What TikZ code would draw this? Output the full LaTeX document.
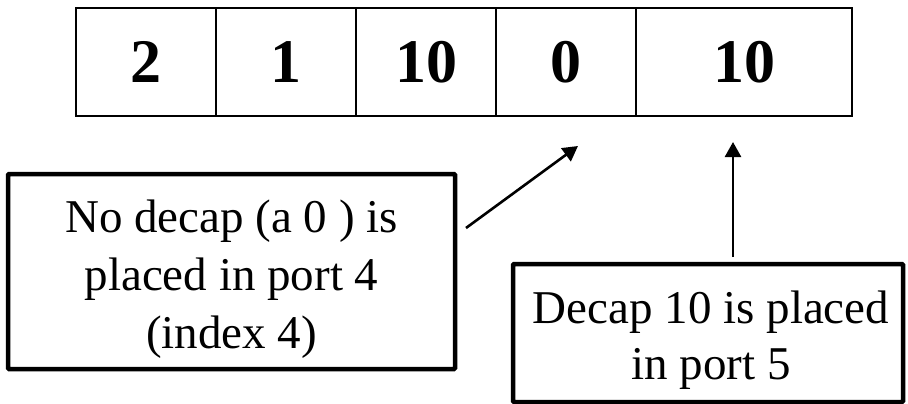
\documentclass[tikz,border=0pt]{standalone}
\usepackage{fontspec}
\setmainfont{Liberation Serif}
\usetikzlibrary{arrows.meta}

\tikzset{
  cell/.style={draw, line width=2.6pt, minimum height=108pt, inner sep=0pt,
    font=\fontsize{62}{70}\selectfont\bfseries},
  notebox/.style={draw, line width=4.5pt, rounded corners=1pt, inner sep=0pt},
  notetext/.style={inner sep=0pt, align=center, font=\fontsize{47}{58}\selectfont},
  pointer/.style={line width=2.6pt, -{Triangle[length=15pt,width=16pt]}}
}

\begin{document}
\begin{tikzpicture}[x=1pt,y=-1pt]
  \useasboundingbox (0,0) rectangle (908,404);

  % the five port slots
  \node[cell, minimum width=140pt] (c1) at (146,62) {2};
  \node[cell, minimum width=140pt] (c2) at (286,62) {1};
  \node[cell, minimum width=140pt] (c3) at (426,62) {10};
  \node[cell, minimum width=140pt] (c4) at (566,62) {0};
  \node[cell, minimum width=216pt] (c5) at (744,62) {10};

  % explanatory notes
  \node[notebox, minimum width=447pt, minimum height=195pt] (n4) at (231.5,271.5) {};
  \node[notetext] (t4) at ([yshift=-8pt]n4.center)
    {No decap (a 0 ) is\\placed in port 4\\(index 4)};
  \node[notebox, minimum width=390pt, minimum height=138pt] (n5) at (708,333) {};
  \node[notetext, font=\fontsize{47}{56}\selectfont] (t5) at ([xshift=3pt,yshift=-7pt]n5.center)
    {Decap 10 is placed\\in port 5};

  % arrow ends
  \coordinate (a4s) at (466,228);
  \coordinate (a4e) at (578,146);
  \coordinate (a5s) at (733,257);
  \coordinate (a5e) at (733,142);

  \draw[pointer] (a4s) -- (a4e);
  \draw[pointer] (a5s) -- (a5e);
\end{tikzpicture}
\end{document}
